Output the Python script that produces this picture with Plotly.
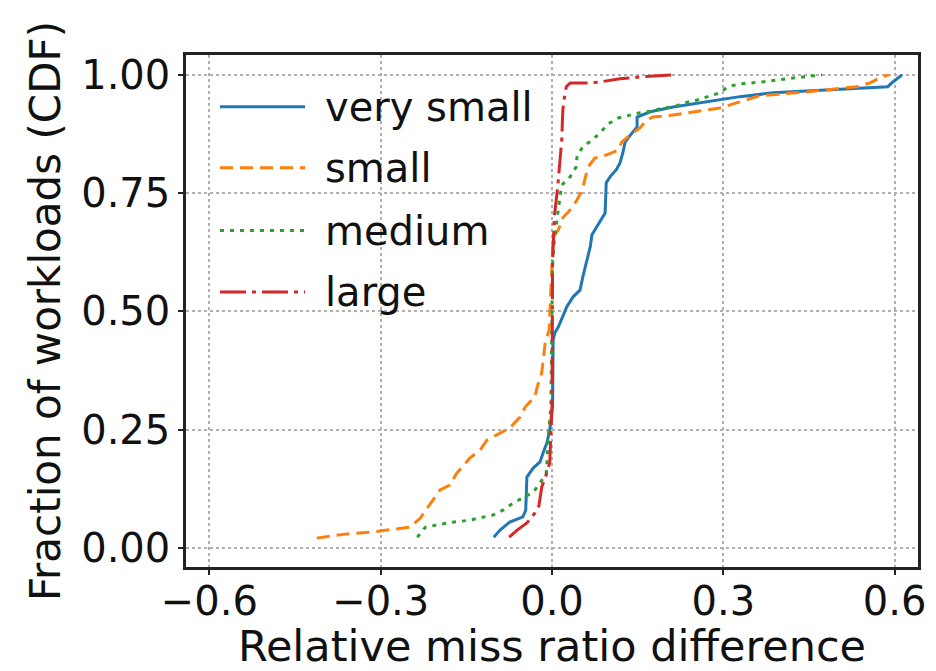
import plotly.graph_objects as go

# ---------------- data ----------------
series_names = ["very small", "small", "medium", "large"]

very_small_x = [-0.102, -0.091, -0.074, -0.051, -0.046, -0.044, -0.033, -0.021, -0.016, -0.009,
                -0.004, 0.001, 0.002, 0.005, 0.011, 0.019, 0.026, 0.037, 0.049, 0.054,
                0.061, 0.067, 0.070, 0.079, 0.088, 0.093, 0.095, 0.102, 0.113, 0.119,
                0.124, 0.128, 0.140, 0.149, 0.149, 0.172, 0.212, 0.271, 0.329, 0.387,
                0.504, 0.588, 0.597, 0.613]
very_small_y = [0.023, 0.038, 0.055, 0.066, 0.080, 0.150, 0.169, 0.182, 0.200, 0.222,
                0.249, 0.300, 0.440, 0.455, 0.467, 0.488, 0.510, 0.531, 0.545, 0.573,
                0.609, 0.637, 0.662, 0.679, 0.698, 0.708, 0.772, 0.785, 0.800, 0.814,
                0.835, 0.858, 0.877, 0.890, 0.911, 0.922, 0.932, 0.943, 0.954, 0.962,
                0.970, 0.975, 0.985, 1.000]

small_x = [-0.412, -0.359, -0.315, -0.278, -0.249, -0.231, -0.217, -0.196, -0.179, -0.167,
           -0.144, -0.126, -0.114, -0.103, -0.074, -0.056, -0.047, -0.030, -0.026, -0.018,
           -0.016, -0.012, -0.005, 0.002, 0.011, 0.019, 0.032, 0.044, 0.053, 0.058,
           0.063, 0.075, 0.096, 0.116, 0.122, 0.137, 0.154, 0.166, 0.177, 0.212,
           0.247, 0.294, 0.329, 0.364, 0.446, 0.534, 0.557, 0.578, 0.590]
small_y = [0.021, 0.030, 0.034, 0.040, 0.044, 0.063, 0.087, 0.123, 0.133, 0.158,
           0.190, 0.207, 0.228, 0.235, 0.254, 0.277, 0.298, 0.320, 0.340, 0.370,
           0.391, 0.433, 0.461, 0.657, 0.672, 0.698, 0.715, 0.736, 0.757, 0.784,
           0.805, 0.824, 0.831, 0.841, 0.858, 0.873, 0.888, 0.905, 0.911, 0.915,
           0.922, 0.930, 0.943, 0.956, 0.964, 0.975, 0.983, 0.996, 1.000]

medium_x = [-0.236, -0.222, -0.184, -0.144, -0.103, -0.086, -0.068, -0.051, -0.033, -0.021,
            -0.010, -0.009, -0.007, -0.002, 0.001, 0.004, 0.008, 0.014, 0.017, 0.032,
            0.042, 0.044, 0.054, 0.070, 0.084, 0.098, 0.116, 0.137, 0.154, 0.177,
            0.194, 0.212, 0.233, 0.254, 0.273, 0.294, 0.308, 0.329, 0.368, 0.412, 0.473]
medium_y = [0.023, 0.044, 0.053, 0.059, 0.070, 0.080, 0.095, 0.106, 0.118, 0.137,
            0.159, 0.180, 0.228, 0.300, 0.600, 0.651, 0.693, 0.742, 0.767, 0.785,
            0.805, 0.829, 0.848, 0.862, 0.877, 0.896, 0.909, 0.915, 0.920, 0.924,
            0.930, 0.932, 0.941, 0.947, 0.954, 0.962, 0.975, 0.981, 0.985, 0.992, 1.000]

large_x = [-0.075, -0.061, -0.044, -0.030, -0.023, -0.018, -0.012, -0.007, -0.004, 0.000,
           0.001, 0.004, 0.010, 0.017, 0.019, 0.021, 0.025, 0.032, 0.061, 0.084,
           0.119, 0.159, 0.210]
large_y = [0.023, 0.038, 0.053, 0.074, 0.089, 0.129, 0.148, 0.165, 0.180, 0.300,
           0.600, 0.700, 0.763, 0.862, 0.926, 0.947, 0.975, 0.983, 0.983, 0.985,
           0.992, 0.996, 1.000]

x_tick_vals = [-0.6, -0.3, 0.0, 0.3, 0.6]
x_tick_text = ["\u22120.6", "\u22120.3", "0.0", "0.3", "0.6"]
y_tick_vals = [0.0, 0.25, 0.5, 0.75, 1.0]
y_tick_text = ["0.00", "0.25", "0.50", "0.75", "1.00"]

x_title = "Relative miss ratio difference"
y_title = "Fraction of workloads (CDF)"

# ---------------- styles ----------------
colors = ["#1f77b4", "#ff7f0e", "#2ca02c", "#d62728"]
dashes = ["solid", "13px,7px", "4px,6px", "26px,6px,4px,6px"]
LW = 3
FONT = "DejaVu Sans"

xs = [very_small_x, small_x, medium_x, large_x]
ys = [very_small_y, small_y, medium_y, large_y]

fig = go.Figure()
for name, x, y, c, d in zip(series_names, xs, ys, colors, dashes):
    fig.add_trace(go.Scatter(x=x, y=y, mode="lines", name=name,
                             line=dict(color=c, width=LW, dash=d),
                             showlegend=False))

# manual legend (matplotlib-like long line samples, no frame)
leg_rows = [0.899, 0.780, 0.657, 0.537]
for name, c, d, yy in zip(series_names, colors, dashes, leg_rows):
    fig.add_shape(type="line", xref="paper", yref="paper",
                  x0=0.0464, x1=0.1626, y0=yy, y1=yy,
                  line=dict(color=c, width=LW, dash=d))
    fig.add_annotation(xref="paper", yref="paper", x=0.187, y=yy,
                       xanchor="left", yanchor="middle", showarrow=False,
                       text=name, font=dict(family=FONT, size=40, color="#111"))

axis_common = dict(
    showgrid=True, gridcolor="#b0b0b0", gridwidth=2, griddash="dot",
    zeroline=False, showline=True, linecolor="#222", linewidth=2.5, mirror=True,
    ticks="outside", ticklen=5, tickwidth=2, tickcolor="#222",
    tickfont=dict(family=FONT, size=40, color="#111"),
)

fig.update_xaxes(range=[-0.641, 0.641], tickvals=x_tick_vals, ticktext=x_tick_text,
                 ticklabelstandoff=-8,
                 title=dict(text=x_title, font=dict(family=FONT, size=43, color="#111"),
                            standoff=4),
                 **axis_common)
fig.update_yaxes(range=[-0.040, 1.042], tickvals=y_tick_vals, ticktext=y_tick_text,
                 title=dict(text=y_title, font=dict(family=FONT, size=42, color="#111"),
                            standoff=8),
                 **axis_common)

fig.update_layout(
    width=936, height=671,
    margin=dict(l=186, r=18, t=55, b=104, autoexpand=False),
    plot_bgcolor="white", paper_bgcolor="white",
    showlegend=False,
)

fig.write_html("out.html")
